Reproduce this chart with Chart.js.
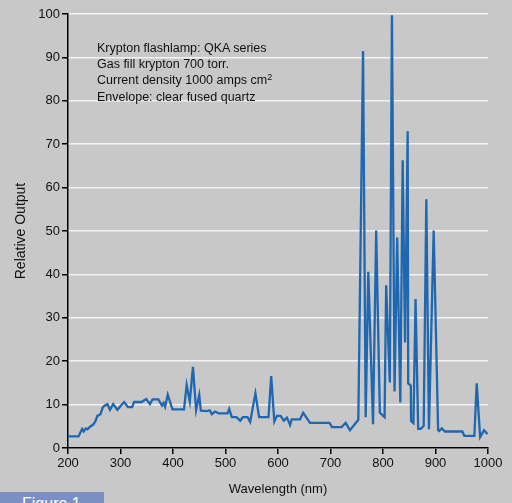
<!DOCTYPE html>
<html>
<head>
<meta charset="utf-8">
<script src="https://cdn.jsdelivr.net/npm/chart.js@4"></script>
<style>
  html, body { margin: 0; padding: 0; background: #c8c8c8; }
  #wrap { position: relative; width: 512px; height: 503px; overflow: hidden; }
  #note {
    position: absolute; left: 97px; top: 40px;
    font: 12.5px "Liberation Sans", Arial, sans-serif; line-height: 16.2px; color: #111;
  }
  #note sup { font-size: 9px; vertical-align: 4px; line-height: 0; }
  #fig {
    position: absolute; left: 0; top: 492px; width: 104px; height: 11px; overflow: hidden;
    background: #7b8fc5; color: #fff;
    font: 16px "Liberation Sans", Arial, sans-serif;
  }
  #fig span { position: absolute; left: 22px; top: 4px; line-height: 16px; }
</style>
</head>
<body>
<div id="wrap">
  <canvas id="grafico" width="512" height="503"></canvas>
  <div id="note">
    Krypton flashlamp: QKA series<br>
    Gas fill krypton 700 torr.<br>
    Current density 1000 amps cm<sup>2</sup><br>
    Envelope: clear fused quartz
  </div>
  <div id="fig"><span>Figure 1</span></div>
</div>
<script>
// comprimento de onda (nm) e saída relativa
const wavelength = [
  200, 220, 227, 230, 234, 237, 242, 248, 252, 256, 262, 266, 269, 275, 280, 286, 294,
  301, 307, 314, 322, 326, 340, 349, 356, 361, 372, 379, 382, 385, 390, 399,
  421, 426, 432, 438, 444, 450, 453, 464, 470, 474, 480, 487,
  504, 507, 512, 521, 528, 533, 542, 547, 557, 564, 582, 587, 593, 598,
  605, 611, 617, 623, 626, 642, 648, 661, 698,
  703, 721, 729, 737, 753, 762, 767, 772, 781, 787, 794,
  803, 806, 813, 817, 822, 827, 833, 837.5, 842, 847, 848, 853, 853.5, 858, 862, 867, 872, 877.5, 882.5, 887.5, 896.5,
  905, 907, 912, 918, 951, 955, 974, 978.5, 985, 992.5, 999
];
const output = [
  2.7, 2.7, 4.4, 3.8, 4.5, 4.3, 4.9, 5.4, 6.1, 7.4, 7.8, 9.3, 9.7, 10.1, 8.8, 10.1, 8.8,
  9.8, 10.6, 9.4, 9.4, 10.6, 10.6, 11.3, 10.1, 11.2, 11.2, 9.8, 10.4, 9.5, 12.3, 8.9,
  8.9, 14.5, 10.7, 18.7, 8.75, 12.2, 8.6, 8.5, 8.7, 7.8, 8.4, 8.0,
  8.0, 9.0, 7.1, 7.1, 6.3, 7.1, 7.1, 6.0, 12.6, 7.1, 7.1, 16.6, 6.1, 7.4,
  7.4, 6.3, 7.0, 5.3, 6.6, 6.6, 8.1, 5.8, 5.8,
  4.8, 4.8, 5.8, 4.1, 6.5, 91.5, 7.1, 40.6, 5.5, 50.1, 8.1,
  7.1, 37.5, 15.1, 99.7, 13.0, 48.5, 10.5, 66.3, 24.3, 73, 14.9, 14.4, 6.2, 5.7, 34.3, 4.4, 4.4, 5.1, 57.3, 4.3, 50.1,
  4.1, 3.9, 4.5, 3.8, 3.8, 2.8, 2.8, 14.9, 2.5, 4.1, 3.2
];

const fonte = { family: '"Liberation Sans", Arial, sans-serif', size: 13 };

const ctx = document.getElementById('grafico').getContext('2d');
new Chart(ctx, {
  type: 'line',
  data: {
    datasets: [{
      data: wavelength.map((w, i) => ({ x: w, y: output[i] })),
      borderColor: '#1f67b1',
      borderWidth: 2.3,
      pointRadius: 0,
      tension: 0,
      fill: false
    }]
  },
  options: {
    responsive: false,
    animation: false,
    events: [],
    layout: { padding: { top: 14, right: 24, left: 0, bottom: 0 } },
    plugins: { legend: { display: false }, tooltip: { enabled: false } },
    scales: {
      x: {
        type: 'linear', min: 200, max: 1000,
        ticks: { stepSize: 100, color: '#111', font: fonte, padding: 2, maxRotation: 0, callback: v => String(v) },
        grid: { drawOnChartArea: false, tickLength: 6, color: '#000', lineWidth: 1.5 },
        border: { color: '#000', width: 1.5 },
        title: { display: true, text: 'Wavelength (nm)', color: '#111', font: fonte, padding: { top: 4, bottom: 6 } },
        afterFit: s => { s.height = 55; }
      },
      y: {
        min: 0, max: 100,
        ticks: { stepSize: 10, color: '#111', font: fonte, padding: 2 },
        grid: { color: '#f3f3f3', lineWidth: 1.5, tickLength: 6, tickColor: '#000' },
        border: { color: '#000', width: 1.5 },
        title: { display: true, text: 'Relative Output', color: '#111', font: { family: fonte.family, size: 14 }, padding: { top: 13, bottom: 4 } },
        afterFit: s => { s.width = 68; }
      }
    }
  }
});
</script>
</body>
</html>
